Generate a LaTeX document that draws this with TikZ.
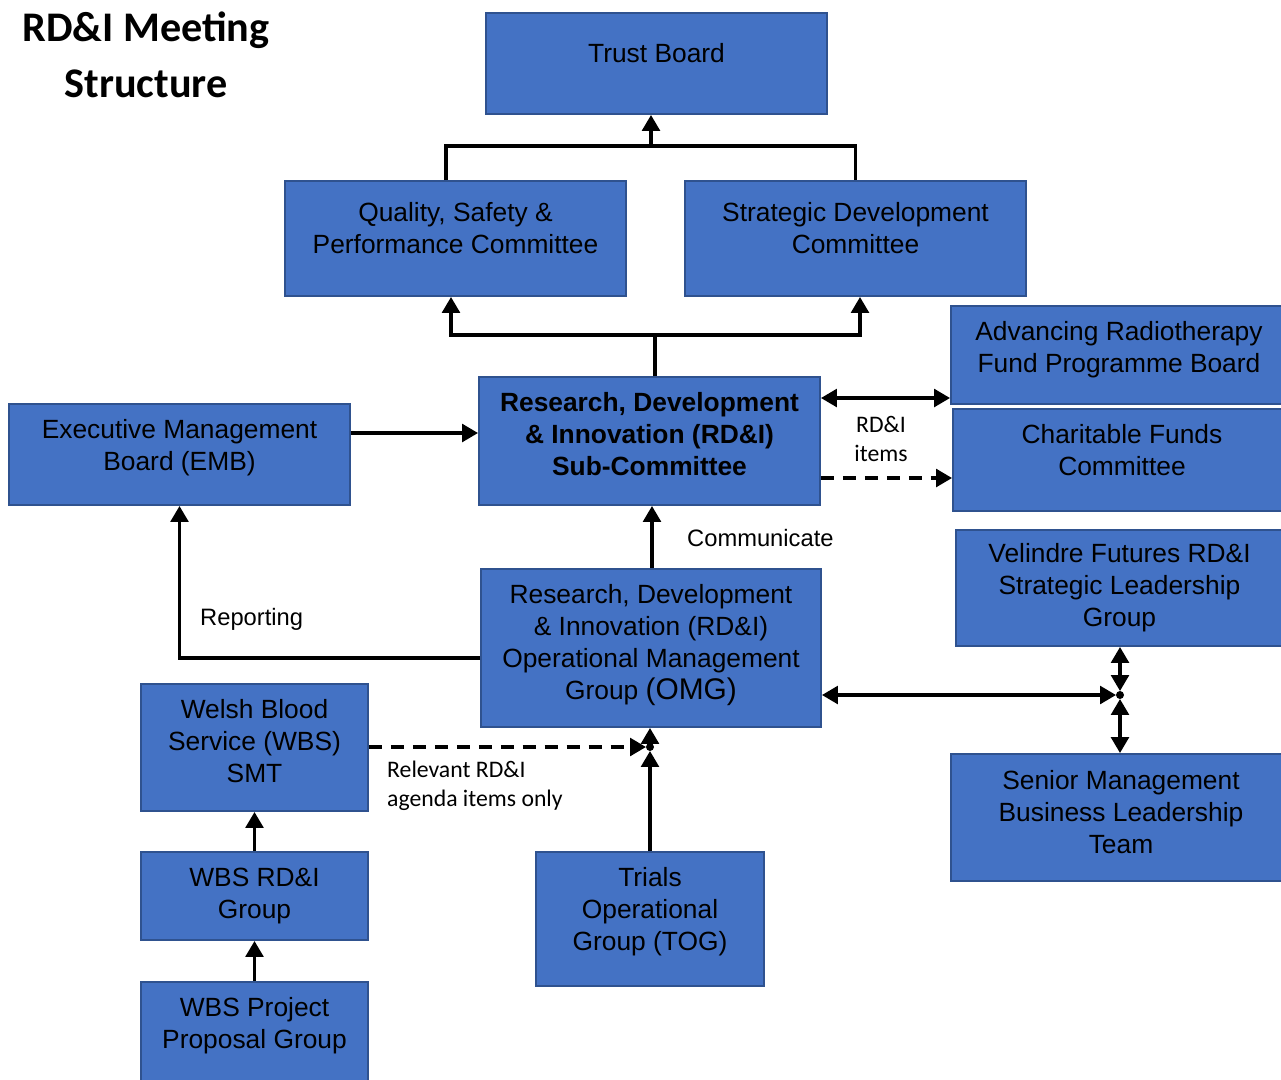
\documentclass[tikz,border=0pt]{standalone}
\usepackage{fontspec}
\setmainfont{Liberation Sans}
\newfontfamily\calibri{Carlito}
\usepackage{xcolor}
\usepackage{tikz}
\usetikzlibrary{positioning,arrows.meta}
\definecolor{boxblue}{RGB}{68,114,196}
\definecolor{boxedge}{RGB}{47,82,143}

\begin{document}
\begin{tikzpicture}[
  box/.style={rectangle, fill=boxblue, draw=boxedge, line width=1.1pt},
  txt/.style={align=center, inner sep=0pt, font=\fontsize{15}{18.2}\selectfont},
  conn/.style={line width=1.9pt},
  arr/.style={conn, -{Triangle[length=9pt,width=10pt]}},
  dbl/.style={conn, {Triangle[length=9pt,width=10pt]}-{Triangle[length=9pt,width=10pt]}},
  dasharr/.style={arr, dash pattern=on 7.5pt off 5pt},
  note/.style={font=\calibri\fontsize{13.5}{16.5}\selectfont},
  plain/.style={font=\fontsize{13.5}{16.5}\selectfont}
]
  \useasboundingbox (0,0) rectangle (25.62,-21.58);

  % title
  \node[align=center, font=\calibri\bfseries\fontsize{24}{32}\selectfont] (title) at (2.92,-1.1)
    {RD\&I Meeting\\Structure};

  % boxes
  \node[box, minimum width=6.82cm, minimum height=2.02cm,
    label={[txt, yshift=0.2cm]center:Trust Board}] (trust) at (13.13,-1.27) {};
  \node[box, minimum width=6.82cm, minimum height=2.30cm,
    label={[txt, yshift=0.2cm]center:{Quality, Safety \&\\Performance Committee}}] (qsp) at (9.11,-4.77) {};
  \node[box, minimum width=6.82cm, minimum height=2.30cm,
    label={[txt, yshift=0.2cm]center:{Strategic Development\\Committee}}] (sdc) at (17.11,-4.77) {};
  \node[box, minimum width=6.82cm, minimum height=2.56cm,
    label={[txt, yshift=0.14cm, font=\bfseries\fontsize{15}{18.2}\selectfont]center:{Research, Development\\\& Innovation (RD\&I)\\Sub-Committee}}] (rdi) at (12.99,-8.82) {};
  \node[box, minimum width=6.82cm, minimum height=2.02cm,
    label={[txt, yshift=0.14cm]center:{Executive Management\\Board (EMB)}}] (emb) at (3.59,-9.09) {};
  \node[box, minimum width=6.64cm, minimum height=1.96cm,
    label={[txt, yshift=0.1cm, xshift=0.04cm]center:{Advancing Radiotherapy\\Fund Programme Board}}] (arf) at (22.34,-7.1) {};
  \node[box, minimum width=6.6cm, minimum height=2.04cm,
    label={[txt, yshift=0.2cm, xshift=0.08cm]center:{Charitable Funds\\Committee}}] (cfc) at (22.36,-9.2) {};
  \node[box, minimum width=6.54cm, minimum height=2.32cm,
    label={[txt]center:{Velindre Futures RD\&I\\Strategic Leadership\\Group}}] (vel) at (22.39,-11.76) {};
  \node[box, minimum width=6.8cm, minimum height=3.16cm,
    label={[txt, yshift=0.06cm]center:{Research, Development\\\& Innovation (RD\&I)\\Operational Management\\Group {\fontsize{17}{18.2}\selectfont(OMG)}}}] (omg) at (13.02,-12.96) {};
  \node[box, minimum width=6.64cm, minimum height=2.54cm,
    label={[txt, yshift=0.1cm, xshift=0.08cm]center:{Senior Management\\Business Leadership\\Team}}] (smt) at (22.34,-16.35) {};
  \node[box, minimum width=4.54cm, minimum height=2.54cm,
    label={[txt, yshift=0.12cm]center:{Welsh Blood\\Service (WBS)\\SMT}}] (wbs) at (5.09,-14.95) {};
  \node[box, minimum width=4.54cm, minimum height=1.76cm,
    label={[txt]center:{WBS RD\&I\\Group}}] (wrd) at (5.09,-17.92) {};
  \node[box, minimum width=4.54cm, minimum height=2.0cm,
    label={[txt, yshift=0.12cm]center:{WBS Project\\Proposal Group}}] (wpp) at (5.09,-20.64) {};
  \node[box, minimum width=4.56cm, minimum height=2.68cm,
    label={[txt, yshift=0.14cm]center:{Trials\\Operational\\Group (TOG)}}] (tog) at (13.0,-18.38) {};

  % junctions
  \coordinate (jtop) at (13.02,-2.92);
  \coordinate (jmid) at (13.1,-6.7);
  \coordinate (jright) at (22.4,-13.9);
  \coordinate (jbot) at (13.0,-14.94);
  \fill (jright) circle (0.08);
  \fill (jbot) circle (0.08);

  % connectors
  \draw[conn] ([xshift=-0.19cm]qsp.north) |- (jtop) -| (sdc.north);
  \draw[arr] (jtop) -- (jtop |- trust.south);
  \draw[conn] (jmid |- rdi.north) -- (jmid);
  \draw[arr] (jmid) -| ([xshift=-0.09cm]qsp.south);
  \draw[arr] (jmid) -| ([xshift=0.09cm]sdc.south);
  \draw[arr] (emb.east |- 0,-8.66) -- (rdi.west |- 0,-8.66);
  \draw[dbl] (rdi.east |- 0,-7.96) -- (arf.west |- 0,-7.96);
  \draw[dasharr] (rdi.east |- 0,-9.56) -- (cfc.west |- 0,-9.56);
  \draw[arr] (omg.north -| 13.04,0) -- (rdi.south -| 13.04,0);
  \draw[arr] (omg.west |- 0,-13.16) -| (emb.south);
  \draw[dbl, shorten >=0.08cm] (omg.east |- jright) -- (jright);
  \draw[dbl, shorten <=0.08cm] (jright) -- (jright |- vel.south);
  \draw[dbl, shorten <=0.08cm] (jright) -- (jright |- smt.north);
  \draw[dasharr, shorten >=0.08cm] (wbs.east |- jbot) -- (jbot);
  \draw[arr, shorten >=0.08cm] (tog.north) -- (jbot);
  \draw[arr] (jbot) -- (jbot |- omg.south);
  \draw[arr] (wrd.north) -- (wbs.south);
  \draw[arr] (wpp.north) -- (wrd.south);

  % labels
  \node[note, align=center] (items) at (17.62,-8.78) {RD\&I\\items};
  \node[plain, anchor=west] (comm) at (13.62,-10.76) {Communicate};
  \node[plain, anchor=west] (rep) at (3.88,-12.38) {Reporting};
  \node[note, align=left, anchor=west] (rel) at (7.62,-15.71) {Relevant RD\&I\\agenda items only};
\end{tikzpicture}
\end{document}
